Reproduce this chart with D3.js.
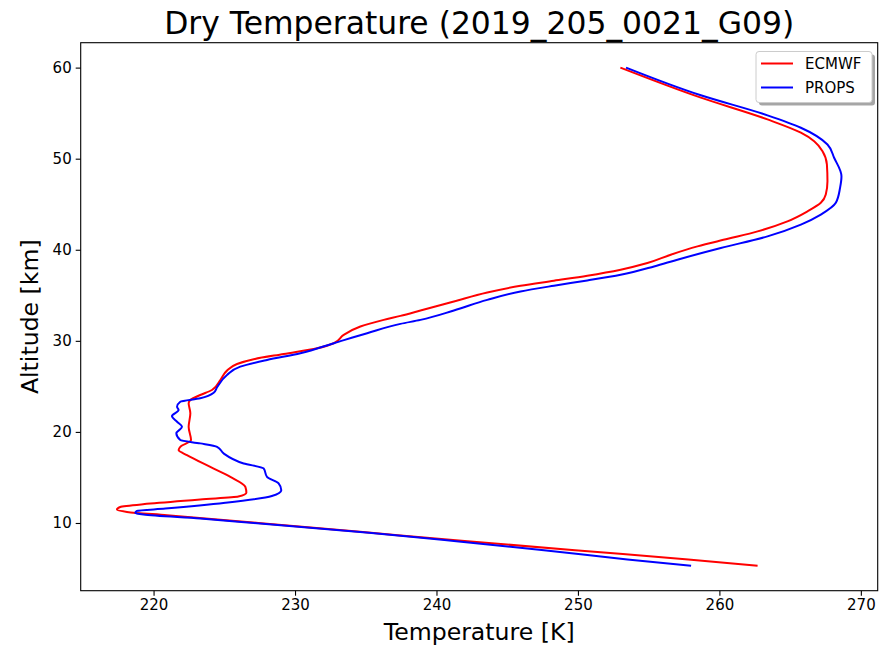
<!DOCTYPE html>
<html>
<head>
<meta charset="utf-8">
<script src="https://cdn.jsdelivr.net/npm/d3@7"></script>
<style>
  body { margin: 0; background: #fff; }
  text { font-family: "DejaVu Sans", sans-serif; fill: #000; }
</style>
</head>
<body>
<svg id="chart"></svg>
<script>
// Profiles as [altitude km, temperature K]
var ecmwf = [
  [5.3, 262.7], [6.0, 257.8], [7.0, 249.8], [8.0, 242.2], [9.0, 234.8],
  [10.0, 227.4], [10.85, 220.95], [11.21, 218.12], [11.47, 217.41], [11.76, 217.64],
  [12.13, 219.77], [12.59, 223.3], [12.9, 225.99], [13.32, 226.56], [13.96, 226.49],
  [15.06, 225.43], [16.16, 224.01], [17.45, 222.36], [18.0, 221.77], [18.36, 221.89],
  [19.1, 222.65], [20.56, 222.48], [22.04, 222.6], [23.14, 222.48], [23.5, 222.6],
  [24.05, 223.3], [24.6, 224.13], [25.7, 224.72], [26.73, 225.19], [27.46, 225.9],
  [27.98, 227.08], [28.56, 229.2], [29.19, 231.56], [29.74, 232.74], [30.65, 233.44],
  [31.57, 234.62], [32.3, 236.27], [32.74, 237.45], [33.33, 238.87], [34.32, 241.23],
  [35.31, 243.59], [36.05, 245.94], [36.6, 248.3], [37.15, 250.66], [37.81, 253.02],
  [38.54, 254.91], [39.46, 256.56], [40.37, 258.45], [41.2, 260.6], [42.02, 262.7],
  [43.12, 264.81], [44.22, 266.23], [45.15, 267.17], [46.06, 267.52], [47.52, 267.64],
  [49.36, 267.6], [50.82, 267.29], [51.92, 266.7], [52.85, 265.76], [54.31, 263.4],
  [56.7, 258.69], [60.0, 253.0]
];

var props = [
  [5.3, 258.0], [6.0, 253.5], [7.0, 247.6], [8.0, 241.4], [8.5, 238.2],
  [9.0, 234.6], [10.0, 227.1], [10.48, 223.3], [10.92, 219.29], [11.1, 218.71], [11.32, 218.83],
  [11.58, 220.83], [12.22, 225.07], [12.96, 228.36], [13.6, 229.03], [14.34, 228.84],
  [15.06, 228.02], [15.99, 227.78], [16.54, 226.37], [17.64, 224.95], [18.36, 224.49],
  [18.74, 223.3], [19.1, 221.89], [19.84, 221.61], [20.56, 222.01], [21.11, 221.66],
  [21.74, 221.3], [22.4, 221.77], [22.76, 221.66], [23.31, 221.89], [23.69, 223.3],
  [24.3, 224.25], [24.9, 224.49], [26.25, 225.19], [27.17, 226.13], [27.9, 228.02],
  [28.64, 230.38], [29.74, 232.74], [30.84, 235.1], [31.86, 237.45], [32.3, 238.87],
  [33.33, 241.23], [34.5, 243.59], [35.42, 245.94], [36.05, 248.3], [36.63, 250.66],
  [37.26, 253.02], [38.17, 255.38], [38.91, 257.03], [40.19, 260.1], [41.47, 263.4],
  [42.76, 265.76], [43.86, 267.17], [45.15, 268.23], [46.8, 268.53], [48.07, 268.63],
  [50.1, 268.11], [51.56, 267.64], [53.4, 265.76], [54.76, 263.4], [56.96, 258.69],
  [60.0, 253.4]
];

var seriesNames = ["ECMWF", "PROPS"];
var seriesColors = ["#ff0000", "#0000ff"];
var xTicks = [220, 230, 240, 250, 260, 270];
var yTicks = [10, 20, 30, 40, 50, 60];

var width = 885, height = 649;
var margin = { top: 42.7, right: 7.3, bottom: 58.3, left: 80.7 };
var innerW = width - margin.left - margin.right;
var innerH = height - margin.top - margin.bottom;

var svg = d3.select("#chart")
    .attr("width", width)
    .attr("height", height);

// matplotlib-style autoscale: data range plus 5% each side
var all = ecmwf.concat(props);
var tExt = d3.extent(all, d => d[1]);
var aExt = d3.extent(all, d => d[0]);
var tPad = (tExt[1] - tExt[0]) * 0.05;
var aPad = (aExt[1] - aExt[0]) * 0.05;

var x = d3.scaleLinear()
          .domain([tExt[0] - tPad, tExt[1] + tPad])
          .range([0, innerW]);
var y = d3.scaleLinear()
          .domain([aExt[0] - aPad, aExt[1] + aPad])
          .range([innerH, 0]);

var g = svg.append("g")
    .attr("transform", "translate(" + margin.left + "," + margin.top + ")");

var line = d3.line()
             .x(d => x(d[1]))
             .y(d => y(d[0]))
             .curve(d3.curveMonotoneY);

[ecmwf, props].forEach(function(data, i) {
  g.append("path")
      .datum(data)
      .attr("fill", "none")
      .attr("stroke", seriesColors[i])
      .attr("stroke-width", 2)
      .attr("stroke-linejoin", "round")
      .attr("d", line);
});

// Axes
var xAxis = g.append("g")
    .attr("transform", "translate(0," + innerH + ")")
    .call(d3.axisBottom(x).tickValues(xTicks).tickSize(5).tickPadding(4));
var yAxis = g.append("g")
    .call(d3.axisLeft(y).tickValues(yTicks).tickSize(5).tickPadding(4));

[xAxis, yAxis].forEach(function(ax) {
  ax.select(".domain").remove();
  ax.selectAll("line").attr("stroke", "#000").attr("stroke-width", 1.1);
  ax.selectAll("text").attr("font-size", 15).attr("fill", "#000")
    .style("font-family", "DejaVu Sans, sans-serif");
});

// Frame
g.append("rect")
    .attr("width", innerW)
    .attr("height", innerH)
    .attr("fill", "none")
    .attr("stroke", "#000")
    .attr("stroke-width", 1.1);

// Titles
svg.append("text")
    .attr("x", margin.left + innerW / 2)
    .attr("y", 34)
    .attr("font-size", 31.4)
    .style("text-anchor", "middle")
    .text("Dry Temperature (2019_205_0021_G09)");

svg.append("text")
    .attr("x", margin.left + innerW / 2)
    .attr("y", 640)
    .attr("font-size", 23.6)
    .style("text-anchor", "middle")
    .text("Temperature [K]");

svg.append("text")
    .attr("transform", "translate(38," + (margin.top + innerH / 2) + ") rotate(-90)")
    .attr("font-size", 23.6)
    .style("text-anchor", "middle")
    .text("Altitude [km]");

// Legend with drop shadow
var legend = svg.append("g").attr("transform", "translate(756,51.5)");
legend.append("rect")
    .attr("x", 3).attr("y", 3)
    .attr("width", 116).attr("height", 51)
    .attr("rx", 3)
    .attr("fill", "#000")
    .attr("opacity", 0.35);
legend.append("rect")
    .attr("width", 116).attr("height", 51)
    .attr("rx", 3)
    .attr("fill", "#fff")
    .attr("stroke", "#ccc")
    .attr("stroke-width", 1);

seriesNames.forEach(function(name, i) {
  var ly = 12 + i * 24;
  legend.append("line")
      .attr("x1", 5).attr("x2", 37)
      .attr("y1", ly).attr("y2", ly)
      .attr("stroke", seriesColors[i])
      .attr("stroke-width", 2);
  legend.append("text")
      .attr("x", 49)
      .attr("y", ly)
      .attr("dy", "0.35em")
      .attr("font-size", 15)
      .text(name);
});
</script>
</body>
</html>
